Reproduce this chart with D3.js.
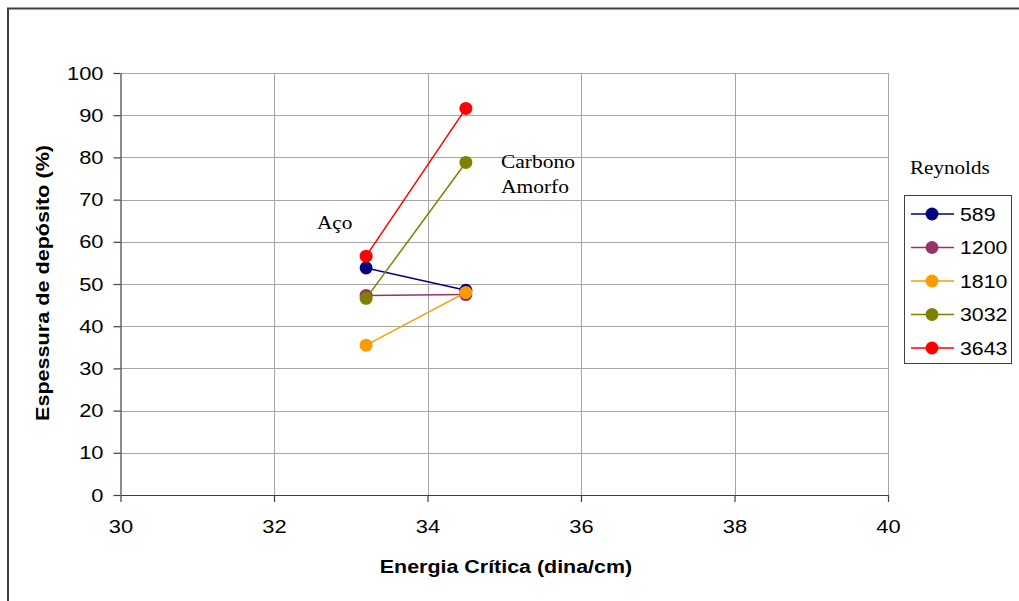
<!DOCTYPE html>
<html>
<head>
<meta charset="utf-8">
<script src="https://cdn.jsdelivr.net/npm/d3@7/dist/d3.min.js"></script>
<style>
  html, body { margin: 0; padding: 0; background: #fff; }
  svg { display: block; }
</style>
</head>
<body>
<svg id="chart" width="1019" height="601"></svg>
<script>
// Critical energy of the surface (dina/cm) for each material
const energies = [33.2, 34.5];
// Reynolds numbers of the series
const reynolds = ["589", "1200", "1810", "3032", "3643"];
// Deposit thickness (%) per series, one value per surface energy
const thick589  = [53.8, 48.5];
const thick1200 = [47.3, 47.5];
const thick1810 = [35.5, 48.0];
const thick3032 = [46.6, 78.8];
const thick3643 = [56.6, 91.6];
const seriesColors = ["#000080", "#993366", "#FF9900", "#808000", "#FF0000"];
// Axis ticks
const xTicks = [30, 32, 34, 36, 38, 40];
const yTicks = [0, 10, 20, 30, 40, 50, 60, 70, 80, 90, 100];

const seriesValues = [thick589, thick1200, thick1810, thick3032, thick3643];
const series = reynolds.map((name, i) => ({
  name,
  color: seriesColors[i],
  points: energies.map((e, j) => ({ x: e, y: seriesValues[i][j] }))
}));

const svg = d3.select("#chart");
const plot = { left: 120.5, right: 888, top: 73, bottom: 495 };

const x = d3.scaleLinear().domain([30, 40]).range([plot.left, plot.right]);
const y = d3.scaleLinear().domain([0, 100]).range([plot.bottom, plot.top]);

// Widen glyphs horizontally to get the broad lettering of the chart
function widen(sel, factor) {
  sel.each(function () {
    const w = this.getComputedTextLength();
    d3.select(this).attr("textLength", w * factor).attr("lengthAdjust", "spacingAndGlyphs");
  });
}

// Outer chart frame
svg.append("rect")
  .attr("x", 8).attr("y", 8.5)
  .attr("width", 1030).attr("height", 620)
  .attr("fill", "none").attr("stroke", "#404040").attr("stroke-width", 2);

// Gridlines
const grid = svg.append("g");
grid.selectAll("line.h").data(yTicks.filter(d => d > 0)).join("line")
  .attr("x1", plot.left).attr("x2", plot.right)
  .attr("y1", d => Math.round(y(d)) + 0.5).attr("y2", d => Math.round(y(d)) + 0.5)
  .attr("stroke", "#a6a6a6").attr("stroke-width", 1);
grid.selectAll("line.v").data(xTicks.filter(d => d > 30)).join("line")
  .attr("y1", plot.top).attr("y2", plot.bottom)
  .attr("x1", d => Math.round(x(d)) + 0.5).attr("x2", d => Math.round(x(d)) + 0.5)
  .attr("stroke", "#a6a6a6").attr("stroke-width", 1);

// Axes
const font = "'Liberation Sans', Arial, sans-serif";
const xAxis = svg.append("g")
  .attr("transform", `translate(0,${plot.bottom})`)
  .call(d3.axisBottom(x).tickValues(xTicks).tickSize(7).tickSizeOuter(0).tickPadding(18));
const yAxis = svg.append("g")
  .attr("transform", `translate(${plot.left},0)`)
  .call(d3.axisLeft(y).tickValues(yTicks).tickSize(7).tickSizeOuter(0).tickPadding(10));
[xAxis, yAxis].forEach(a => {
  a.select(".domain").attr("stroke", "#404040").attr("stroke-width", 1.2);
  a.selectAll(".tick line").attr("stroke", "#404040").attr("stroke-width", 1.2);
  a.selectAll(".tick text").attr("font-family", font).attr("font-size", 19).attr("fill", "#000")
    .call(widen, 1.15);
});

// Axis titles
svg.append("text")
  .attr("x", 506).attr("y", 573)
  .attr("text-anchor", "middle")
  .attr("font-family", font).attr("font-size", 18).attr("font-weight", "bold")
  .text("Energia Crítica (dina/cm)")
  .call(widen, 1.19);
svg.append("text")
  .attr("transform", "translate(49,283) rotate(-90)")
  .attr("text-anchor", "middle")
  .attr("font-family", font).attr("font-size", 18).attr("font-weight", "bold")
  .text("Espessura de depósito (%)")
  .call(widen, 1.2);

// Series lines and markers
const line = d3.line().x(d => x(d.x)).y(d => y(d.y));
series.forEach(s => {
  const g = svg.append("g");
  g.append("path")
    .attr("d", line(s.points))
    .attr("fill", "none").attr("stroke", s.color).attr("stroke-width", 1.5);
  g.selectAll("circle").data(s.points).join("circle")
    .attr("cx", d => x(d.x)).attr("cy", d => y(d.y))
    .attr("r", 6.5).attr("fill", s.color);
});

// Material annotations
const serif = "'Liberation Serif', 'Times New Roman', serif";
svg.append("text").attr("x", 317).attr("y", 229)
  .attr("font-family", serif).attr("font-size", 19).text("Aço").call(widen, 1.12);
svg.append("text").attr("x", 501).attr("y", 168)
  .attr("font-family", serif).attr("font-size", 19).text("Carbono").call(widen, 1.13);
svg.append("text").attr("x", 501).attr("y", 193)
  .attr("font-family", serif).attr("font-size", 19).text("Amorfo").call(widen, 1.13);

// Legend
svg.append("text").attr("x", 910).attr("y", 174)
  .attr("font-family", serif).attr("font-size", 19).text("Reynolds").call(widen, 1.11);
const legend = svg.append("g");
legend.append("rect")
  .attr("x", 904.5).attr("y", 195.5).attr("width", 107).attr("height", 168)
  .attr("fill", "#fff").attr("stroke", "#404040").attr("stroke-width", 1);
const rowY = d3.scalePoint().domain(reynolds).range([214, 348]);
const items = legend.selectAll("g.item").data(series).join("g")
  .attr("transform", d => `translate(0,${rowY(d.name)})`);
items.append("line")
  .attr("x1", 911).attr("x2", 954).attr("y1", 0).attr("y2", 0)
  .attr("stroke", d => d.color).attr("stroke-width", 1.5);
items.append("circle")
  .attr("cx", 932).attr("cy", 0).attr("r", 6.5).attr("fill", d => d.color);
items.append("text")
  .attr("x", 960).attr("y", 0).attr("dy", "0.36em")
  .attr("font-family", font).attr("font-size", 19)
  .text(d => d.name)
  .call(widen, 1.12);
</script>
</body>
</html>
